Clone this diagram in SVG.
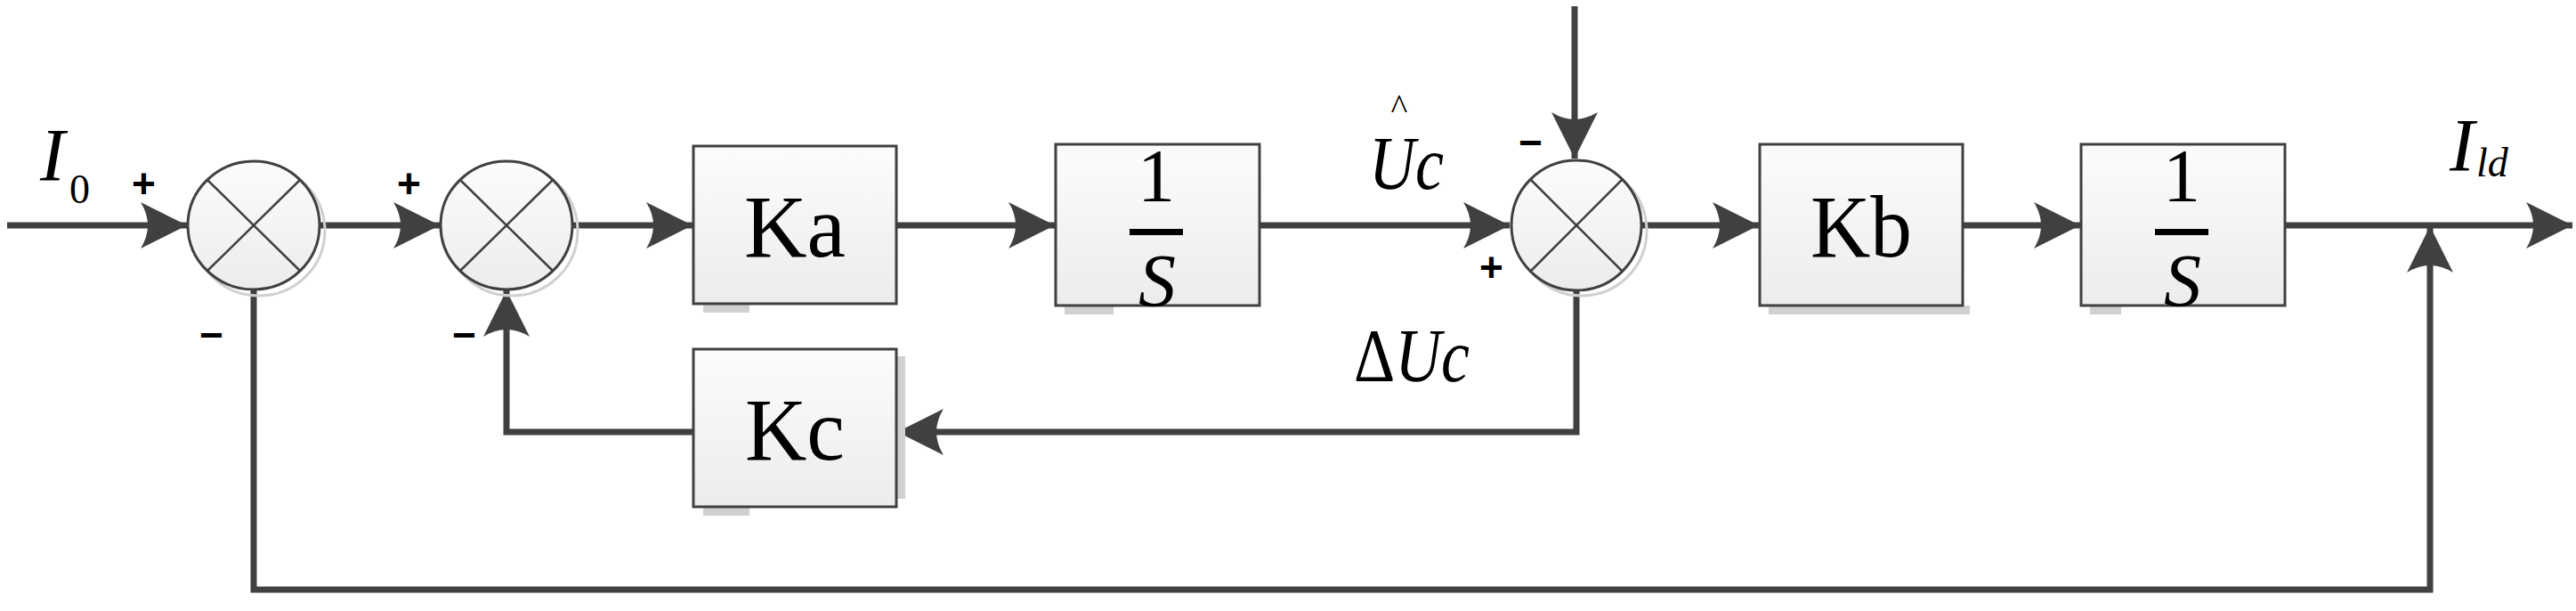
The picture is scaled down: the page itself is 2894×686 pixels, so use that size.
<svg xmlns="http://www.w3.org/2000/svg" width="2894" height="686" viewBox="0 0 2894 686">
<style>
.ln{fill:none;stroke:#404040;stroke-width:7}
.bx{fill:url(#g);stroke:#404040;stroke-width:3}
.sh{fill:#d0d0d0}
.sm{fill:url(#g);stroke:#404040;stroke-width:3}
.x{stroke:#404040;stroke-width:2.5}
.t{font-family:"Liberation Serif",serif;fill:#000}
.s{font-family:"Liberation Sans",sans-serif;font-weight:bold;fill:#000;font-size:46px}
</style>
<defs>
<linearGradient id="g" x1="0" y1="0" x2="0" y2="1"><stop offset="0" stop-color="#fcfcfc"/><stop offset="1" stop-color="#ececec"/></linearGradient>
<marker id="a" markerUnits="userSpaceOnUse" markerWidth="60" markerHeight="60" viewBox="-52 -30 56 60" refX="0" refY="0" orient="auto"><path d="M0,0 L-52,-26 Q-36,0 -52,26 Z" fill="#404040"/></marker>
</defs>
<g id="connectors">
<path class="ln" d="M8,253 H210" marker-end="url(#a)"/>
<path class="ln" d="M360,253 H494" marker-end="url(#a)"/>
<path class="ln" d="M643,253 H778" marker-end="url(#a)"/>
<path class="ln" d="M1007,253 H1185" marker-end="url(#a)"/>
<path class="ln" d="M1415,253 H1696" marker-end="url(#a)"/>
<path class="ln" d="M1769,7 V178" marker-end="url(#a)"/>
<path class="ln" d="M1844,253 H1976" marker-end="url(#a)"/>
<path class="ln" d="M2205,253 H2337" marker-end="url(#a)"/>
<path class="ln" d="M2567,253 H2890" marker-end="url(#a)"/>
<path class="ln" d="M1771,326 V485 H1008" marker-end="url(#a)"/>
<path class="ln" d="M779,485 H569 V326" marker-end="url(#a)"/>
<path class="ln" d="M285,325 V662 H2730 V254" marker-end="url(#a)"/>
</g>
<g id="sum1"><ellipse cx="291" cy="259" rx="74" ry="73" fill="none" stroke="#d0d0d0" stroke-width="3"/><ellipse class="sm" cx="285" cy="253" rx="74" ry="72"/><path class="x" d="M233,202 L337,304 M337,202 L233,304"/></g>
<g id="sum2"><ellipse cx="575" cy="259" rx="74" ry="73" fill="none" stroke="#d0d0d0" stroke-width="3"/><ellipse class="sm" cx="569" cy="253" rx="74" ry="72"/><path class="x" d="M517,202 L621,304 M621,202 L517,304"/></g>
<g id="sum3"><ellipse cx="1777" cy="259" rx="73" ry="73" fill="none" stroke="#d0d0d0" stroke-width="3"/><ellipse class="sm" cx="1771" cy="253" rx="73" ry="73"/><path class="x" d="M1719,201 L1823,305 M1823,201 L1719,305"/></g>
<g id="Ka"><rect class="sh" x="790" y="341" width="52" height="10"/><rect class="bx" x="779" y="164" width="228" height="177"/><text class="t" x="893" y="288" font-size="100" text-anchor="middle" textLength="114" lengthAdjust="spacingAndGlyphs">Ka</text></g>
<g id="Kc"><rect class="sh" x="1007" y="400" width="10" height="160"/><rect class="sh" x="790" y="569" width="52" height="10"/><rect class="bx" x="779" y="392" width="228" height="177"/><text class="t" x="893" y="516" font-size="100" text-anchor="middle" textLength="112" lengthAdjust="spacingAndGlyphs">Kc</text></g>
<g id="int1"><rect class="sh" x="1196" y="343" width="55" height="10"/><rect class="bx" x="1186" y="162" width="229" height="181"/><text class="t" x="1299" y="226" font-size="84" text-anchor="middle">1</text><rect x="1269" y="257" width="60" height="7" fill="#000"/><text class="t" x="1300" y="344" font-size="84" font-style="italic" text-anchor="middle">S</text></g>
<g id="Kb"><rect class="sh" x="1987" y="343" width="226" height="10"/><rect class="bx" x="1977" y="162" width="228" height="181"/><text class="t" x="2091" y="288" font-size="100" text-anchor="middle" textLength="114" lengthAdjust="spacingAndGlyphs">Kb</text></g>
<g id="int2"><rect class="sh" x="2348" y="343" width="35" height="10"/><rect class="bx" x="2338" y="162" width="229" height="181"/><text class="t" x="2451" y="226" font-size="84" text-anchor="middle">1</text><rect x="2421" y="257" width="60" height="7" fill="#000"/><text class="t" x="2452" y="344" font-size="84" font-style="italic" text-anchor="middle">S</text></g>
<g id="labels">
<text class="t" x="45" y="203" font-size="84" font-style="italic">I</text>
<text class="t" x="78" y="228" font-size="46">0</text>
<text class="s" x="148" y="222">+</text>
<text class="s" x="224" y="392">−</text>
<text class="s" x="446" y="222">+</text>
<text class="s" x="508" y="392">−</text>
<text class="t" x="1580" y="212" font-size="84" font-style="italic" text-anchor="middle" textLength="84" lengthAdjust="spacingAndGlyphs">Uc</text>
<text class="t" x="1572" y="134" font-size="40" text-anchor="middle">^</text>
<text class="t" x="1586" y="428" font-size="84" text-anchor="middle" textLength="130" lengthAdjust="spacingAndGlyphs">Δ<tspan font-style="italic">Uc</tspan></text>
<text class="s" x="1706" y="176">−</text>
<text class="s" x="1662" y="316">+</text>
<text class="t" x="2752" y="192" font-size="84" font-style="italic">I</text>
<text class="t" x="2782" y="198" font-size="46" font-style="italic">ld</text>
</g>
</svg>
